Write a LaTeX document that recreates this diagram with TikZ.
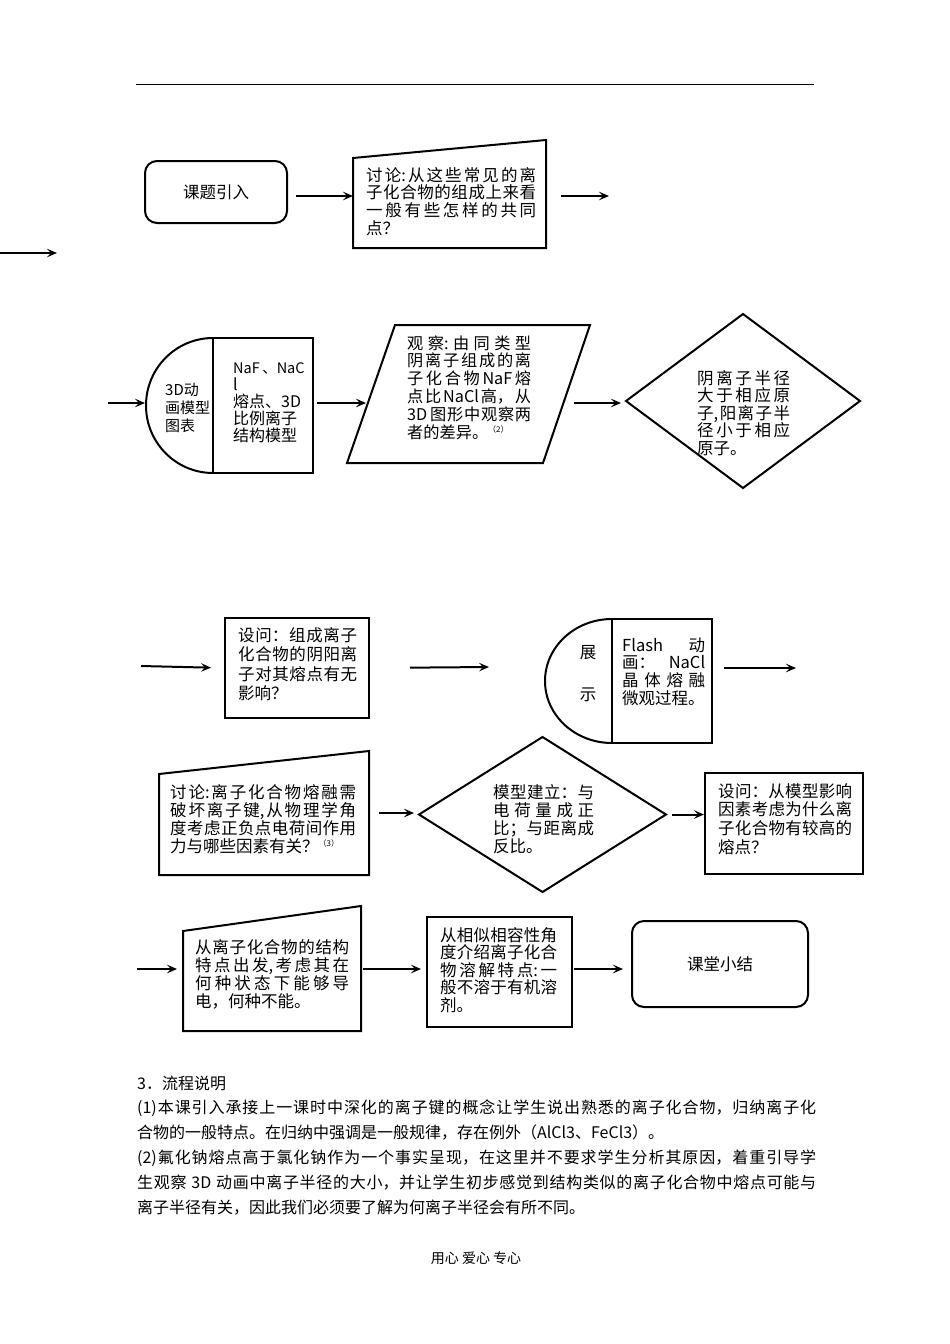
\documentclass[tikz,border=0pt]{standalone}
\usepackage{fontspec}
\usetikzlibrary{arrows.meta,shapes.geometric}
\newfontfamily\cjk{Noto Sans CJK SC}
\XeTeXlinebreaklocale "zh"
\XeTeXlinebreakskip=0pt plus 1pt

\begin{document}
\begin{tikzpicture}[x=1pt,y=-1pt,
    box/.style={draw,line width=2pt,outer sep=0pt},
    rbox/.style={box,rounded corners=12pt,fs},
    dia/.style={box,diamond,inner sep=0pt},
    arr/.style={line width=2pt,-{Stealth[length=10pt,width=8.5pt,inset=4pt]}},
    fs/.style={font=\cjk\fontsize{16.5}{#1}\selectfont},
    fs/.default=18,
    txt/.style={inner sep=0pt,anchor=base west,align=justify,text width=#1pt},
  ]
  \fill[white] (0,0) rectangle (950,1344);
  \useasboundingbox (0,0) rectangle (950,1344);
  \draw[line width=0.8pt] (136,84) -- (814,84);

  % row 1
  \node[rbox,minimum width=142pt,minimum height=62pt] (intro) at (216,192) {课题引入};
  \draw[box] (353,158) -- (546,140) -- (546,248) -- (353,248) -- cycle;
  \coordinate (disc1w) at (353,196);
  \coordinate (disc1e) at (546,196);
  \node[txt=170,fs=17.8] (disc1) at (366,181) {讨论:从这些常见的离\linebreak 子化合物的组成上来看\linebreak 一般有些怎样的共同\linebreak 点？};
  \coordinate (out1) at (609,196);
  \coordinate (in2a) at (0,253);
  \coordinate (in2b) at (57,253);
  \draw[arr,shorten <=9pt] (intro.east |- disc1w) -- (disc1w);
  \draw[arr,shorten <=15pt] (disc1e) -- (out1);
  \draw[arr] (in2a) -- (in2b);

  % row 2
  \node[box,minimum width=100pt,minimum height=135pt] (anim) at (263,405.5) {};
  \draw[box] (anim.north west) arc[start angle=90,end angle=270,x radius=67pt,y radius=67.5pt];
  \coordinate (animw) at (146,403);
  \node[font=\cjk\fontsize{15}{18}\selectfont,txt=50,align=left] (animl) at (165,395) {3D动\\画模型\\图表};
  \node[font=\cjk\fontsize{16}{17}\selectfont,txt=95,align=left] (animr) at (233,373) {{\fontsize{14.5}{17}\selectfont NaF\,、NaC}\\l\\熔点、3D\\比例离子\\结构模型};
  \draw[box] (395,325) -- (590,325) -- (543,463) -- (347,463) -- cycle;
  \coordinate (obsw) at (368,403);
  \coordinate (obse) at (563,403);
  \node[txt=124,font=\cjk\fontsize{16.2}{17.8}\selectfont] (obs) at (407,349) {观察:由同类型\linebreak 阴离子组成的离\linebreak 子化合物\,NaF\,熔\linebreak 点比NaCl高，从\linebreak 3D\,图形中观察两\linebreak 者的差异。\raisebox{6pt}{\fontsize{8}{8}\selectfont（2）}};
  \node[dia,minimum width=234pt,minimum height=174pt] (radius) at (743,401) {};
  \node[txt=93,fs=17.5] (radiust) at (697,384) {阴离子半径\linebreak 大于相应原\linebreak 子,阳离子半\linebreak 径小于相应\linebreak 原子。};
  \coordinate (in3) at (108,403);
  \draw[arr,shorten >=1pt] (in3) -- (animw);
  \draw[arr,shorten <=4pt,shorten >=2pt] (anim.east |- obsw) -- (obsw);
  \draw[arr,shorten <=11pt,shorten >=5pt] (obse) -- (obse -| radius.west);

  % row 3
  \node[box,minimum width=144pt,minimum height=100pt] (ask1) at (297,668) {};
  \node[txt=119,fs=19.5] (ask1t) at (238,641) {设问：组成离子\linebreak 化合物的阴阳离\linebreak 子对其熔点有无\linebreak 影响？};
  \node[box,minimum width=100pt,minimum height=124pt] (flash) at (662,681) {};
  \draw[box] (flash.north west) arc[start angle=90,end angle=270,x radius=67pt,y radius=62pt];
  \node[fs] (show1) at (588,653) {展};
  \node[fs] (show2) at (588,695) {示};
  \node[txt=83,fs=17.7] (flasht) at (622,651) {Flash 动\linebreak 画：NaCl\linebreak 晶体熔融\linebreak 微观过程。};
  \coordinate (in4) at (141,666);
  \coordinate (mid3) at (489,667);
  \coordinate (out3) at (796,668);
  \draw[arr,shorten >=14pt] (in4) -- (ask1.west);
  \draw[arr,shorten <=41pt] (ask1.east) -- (mid3);
  \draw[arr,shorten <=12pt] (flash.east |- out3) -- (out3);

  % row 4
  \draw[box] (159,774) -- (369,751) -- (369,875) -- (159,875) -- cycle;
  \coordinate (disc2e) at (369,813);
  \node[txt=186,fs=18.3] (disc2) at (170,798) {讨论:离子化合物熔融需\linebreak 破坏离子键,从物理学角\linebreak 度考虑正负点电荷间作用\linebreak 力与哪些因素有关？\raisebox{6pt}{\fontsize{8}{8}\selectfont（3）}};
  \node[dia,minimum width=247pt,minimum height=155pt] (model) at (542.5,814.5) {};
  \node[txt=101,fs=18.3] (modelt) at (493,798) {模型建立：与\linebreak 电荷量成正\linebreak 比；与距离成\linebreak 反比。};
  \node[box,minimum width=158pt,minimum height=101pt] (ask2) at (784,823.5) {};
  \node[txt=134,fs=18.7] (ask2t) at (718,797) {设问：从模型影响\linebreak 因素考虑为什么离\linebreak 子化合物有较高的\linebreak 熔点？};
  \draw[arr,shorten <=10pt,shorten >=5pt] (disc2e) -- (disc2e -| model.west);
  \draw[arr,shorten <=6pt,shorten >=1pt] (model.east) -- (model.east -| ask2.west);

  % row 5
  \draw[box] (183,931) -- (361,906) -- (361,1031) -- (183,1031) -- cycle;
  \coordinate (condw) at (183,969);
  \coordinate (conde) at (361,969);
  \node[txt=154,fs=18.3] (cond) at (195,953) {从离子化合物的结构\linebreak 特点出发,考虑其在\linebreak 何种状态下能够导\linebreak 电，何种不能。};
  \node[box,minimum width=145pt,minimum height=110pt] (solv) at (499.5,972) {};
  \node[txt=117,fs=17.5] (solvt) at (440,941) {从相似相容性角\linebreak 度介绍离子化合\linebreak 物溶解特点:一\linebreak 般不溶于有机溶\linebreak 剂。};
  \node[rbox,minimum width=176pt,minimum height=86pt] (summ) at (720,964) {课堂小结};
  \coordinate (in5) at (137,969);
  \draw[arr,shorten >=6pt] (in5) -- (condw);
  \draw[arr,shorten <=2pt,shorten >=6pt] (conde) -- (conde -| solv.west);
  \draw[arr,shorten <=2pt,shorten >=9pt] (conde -| solv.east) -- (conde -| summ.west);

  % notes
  \node[font=\cjk\fontsize{16}{24.8}\selectfont,txt=679] (notes) at (137,1089) {3．流程说明\\(1)本课引入承接上一课时中深化的离子键的概念让学生说出熟悉的离子化合物，归纳离子化\linebreak 合物的一般特点。在归纳中强调是一般规律，存在例外（AlCl3、FeCl3）。\\(2)氟化钠熔点高于氯化钠作为一个事实呈现，在这里并不要求学生分析其原因，着重引导学\linebreak 生观察 3D 动画中离子半径的大小，并让学生初步感觉到结构类似的离子化合物中熔点可能与\linebreak 离子半径有关，因此我们必须要了解为何离子半径会有所不同。};
  \node[font=\cjk\fontsize{14}{14}\selectfont] (foot) at (476,1258) {用心 爱心 专心};
\end{tikzpicture}
\end{document}
